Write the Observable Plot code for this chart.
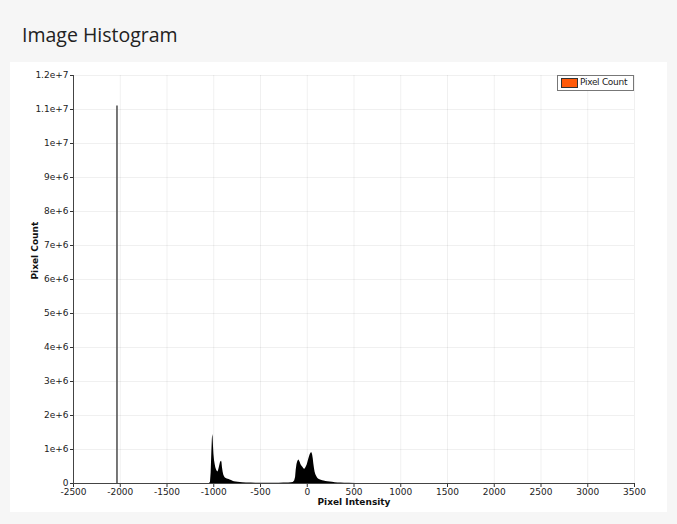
<!DOCTYPE html>
<html>
<head>
<meta charset="utf-8">
<script src="https://cdn.jsdelivr.net/npm/d3@7"></script>
<script src="https://cdn.jsdelivr.net/npm/@observablehq/plot@0.6"></script>
<style>
  body { margin:0; background:#f6f6f6; width:677px; height:524px; position:relative; overflow:hidden; font-family:"DejaVu Sans", Verdana, sans-serif; }
  #panel { position:absolute; left:10px; top:62px; width:657px; height:450px; background:#fff; }
  #title { position:absolute; left:22px; top:21px; font-family:"Open Sans","Noto Sans",sans-serif; font-size:19.5px; color:#222; }
  #chart { position:absolute; left:0; top:0; }
  #legend { position:absolute; left:557px; top:75px; width:77px; height:16px; border:1px solid #777; background:#fff; font-size:9px; color:#222; box-sizing:border-box; }
  #legend .sw { position:absolute; left:3px; top:2px; width:17px; height:10px; background:#ff5a0a; border:1px solid #333; box-sizing:border-box; }
  #legend .tx { position:absolute; left:22px; top:1px; letter-spacing:-0.3px; }
</style>
</head>
<body>
<div id="panel"></div>
<div id="title">Image Histogram</div>
<div id="chart"></div>
<div id="legend"><div class="sw"></div><div class="tx">Pixel Count</div></div>
<script>
// Data
const seriesName = "Pixel Count";
const xTicks = [-2500,-2000,-1500,-1000,-500,0,500,1000,1500,2000,2500,3000,3500];
const yTicks = [0,1e6,2e6,3e6,4e6,5e6,6e6,7e6,8e6,9e6,1e7,1.1e7,1.2e7];
const spikeIntensity = [-2035];
const spikeCount = [1.11e7];
const intensity = [-1045,-1035,-1028,-1020,-1015,-1011,-1007,-1003,-998,-992,-985,-978,-970,-963,-956,-950,-943,-935,-928,-921,-916,-912,-907,-900,-893,-885,-876,-866,-856,-846,-836,-825,-810,-795,-780,-760,-740,-715,-690,-650,-600,-550,-500,-450,-400,-350,-300,-250,-200,-170,-150,-135,-125,-118,-110,-102,-95,-88,-80,-74,-68,-60,-52,-45,-38,-30,-22,-15,-8,0,8,16,24,32,40,46,52,58,64,70,77,84,92,100,110,120,135,150,165,180,200,220,245,270,300,330,360,400,450,520,600,700];
const count = [0,40000,300000,950000,1300000,1440000,1350000,1100000,850000,680000,560000,460000,400000,360000,340000,370000,440000,540000,620000,650000,655000,610000,470000,340000,250000,200000,160000,145000,135000,125000,118000,105000,85000,68000,54000,44000,36000,29000,23000,17000,12000,10000,9000,8000,8000,9000,10000,12000,15000,20000,30000,70000,180000,400000,560000,640000,680000,690000,650000,610000,560000,520000,490000,470000,440000,420000,430000,460000,500000,550000,630000,710000,790000,850000,890000,910000,890000,830000,730000,580000,440000,330000,260000,210000,165000,135000,112000,96000,82000,70000,60000,50000,42000,35000,25000,18000,12000,7000,4000,2000,1000,0];

const hist = intensity.map((v,i) => ({intensity:v, count:count[i]}));
const spike = spikeIntensity.map((v,i) => ({intensity:v, count:spikeCount[i]}));

const fmtY = d => {
  if (d === 0) return "0";
  const e = Math.floor(Math.log10(d));
  const m = +(d / Math.pow(10, e)).toFixed(2);
  return `${m}e+${e}`;
};

const chart = Plot.plot({
  width: 677,
  height: 524,
  marginLeft: 73,
  marginRight: 43,
  marginTop: 75,
  marginBottom: 41,
  style: { background: "transparent", fontFamily: "DejaVu Sans, Verdana, sans-serif", fontSize: "9px", color: "#222" },
  x: { domain: [-2500, 3500], ticks: xTicks, tickFormat: d => String(d), tickSize: 4, label: null },
  y: { domain: [0, 1.2e7], ticks: yTicks, tickFormat: fmtY, tickSize: 3, label: null },
  marks: [
    Plot.gridX(xTicks, { stroke: "#000", strokeOpacity: 0.06 }),
    Plot.gridY(yTicks, { stroke: "#000", strokeOpacity: 0.06 }),
    Plot.areaY(hist, { x: "intensity", y: "count", fill: "#000", curve: "linear" }),
    Plot.ruleX(spike, { x: "intensity", y1: 0, y2: "count", stroke: "#555", strokeWidth: 1.6 }),
    Plot.axisX({ ticks: xTicks, tickFormat: d => String(d), tickSize: 4, tickPadding: 1, stroke: "#333", label: null }),
    Plot.axisY({ ticks: yTicks, tickFormat: fmtY, tickSize: 3, tickPadding: 2, stroke: "#333", label: null }),
    Plot.ruleX([-2500], { stroke: "#444" }),
    Plot.ruleY([0], { stroke: "#444" }),
    Plot.text(["Pixel Intensity"], { frameAnchor: "bottom", dy: 21, fontWeight: "bold", fontSize: 9, fill: "#111" }),
    Plot.text(["Pixel Count"], { frameAnchor: "left", dx: -38, rotate: -90, fontWeight: "bold", fontSize: 9, fill: "#111" })
  ]
});
document.getElementById("chart").appendChild(chart);
</script>
</body>
</html>
